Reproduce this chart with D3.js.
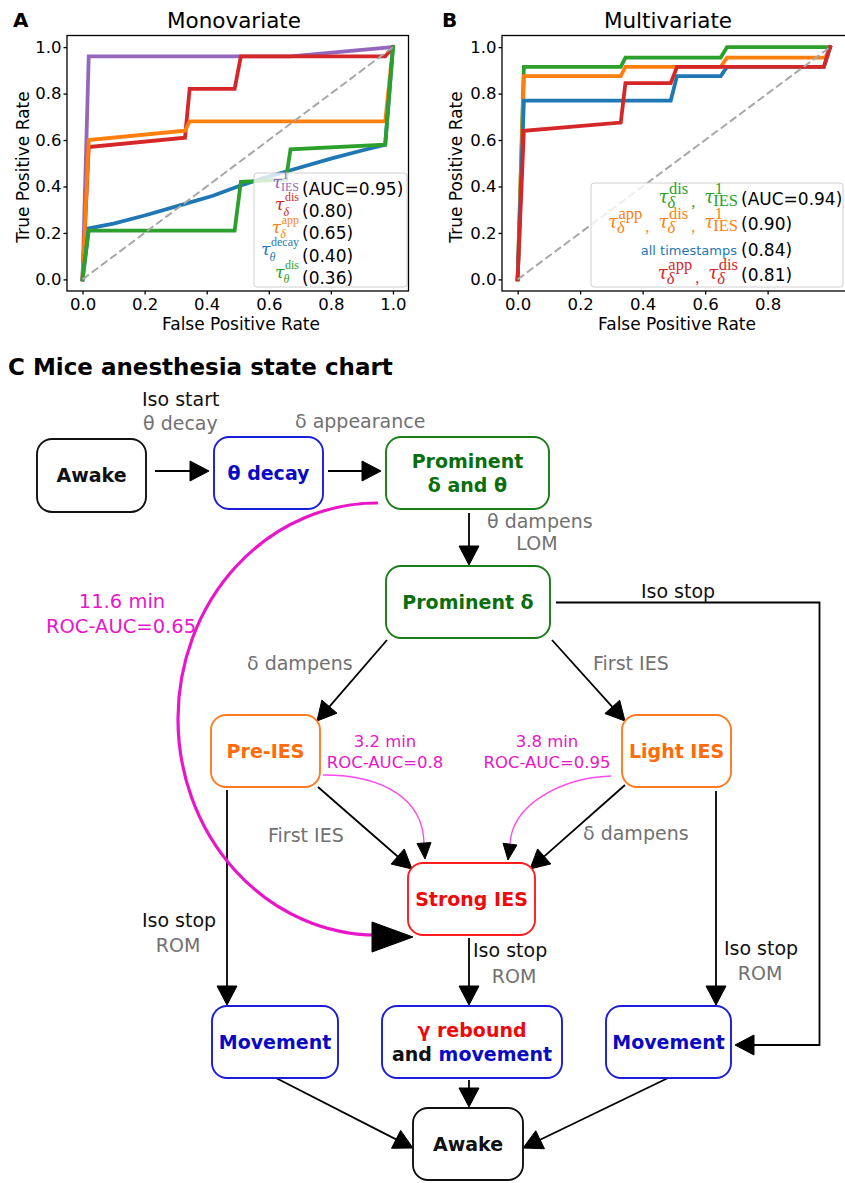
<!DOCTYPE html>
<html>
<head>
<meta charset="utf-8">
<script src="https://cdn.jsdelivr.net/npm/d3@7"></script>
<style>
  body { margin: 0; background: #fff; }
  svg { display: block; }
</style>
</head>
<body>
<svg id="fig" width="845" height="1183"></svg>
<script>
// ---------------- ROC curves, panel A (monovariate) ----------------
const monoIES1Fpr       = [0, 0.02, 0.67, 1.0];
const monoIES1Tpr       = [0, 0.96, 0.96, 1.0];
const monoDeltaDisFpr   = [0, 0.02, 0.33, 0.345, 0.49, 0.51, 0.975, 1.0];
const monoDeltaDisTpr   = [0, 0.57, 0.61, 0.82, 0.82, 0.96, 0.96, 1.0];
const monoDeltaAppFpr   = [0, 0.02, 0.33, 0.345, 0.975, 1.0];
const monoDeltaAppTpr   = [0, 0.60, 0.64, 0.68, 0.68, 1.0];
const monoThetaDecayFpr = [0, 0.02, 0.10, 0.20, 0.33, 0.42, 0.50, 0.58, 0.67, 0.80, 0.90, 0.975, 1.0];
const monoThetaDecayTpr = [0, 0.22, 0.24, 0.275, 0.325, 0.36, 0.40, 0.435, 0.47, 0.52, 0.555, 0.58, 1.0];
const monoThetaDisFpr   = [0, 0.02, 0.49, 0.51, 0.655, 0.67, 0.975, 1.0];
const monoThetaDisTpr   = [0, 0.21, 0.21, 0.42, 0.43, 0.56, 0.58, 1.0];
const monoAUC = [0.95, 0.80, 0.65, 0.40, 0.36];

// ---------------- ROC curves, panel B (multivariate) ----------------
const multiDisIESFpr    = [0, 0.02, 0.33, 0.345, 0.65, 0.67, 0.99, 1.0];
const multiDisIESTpr    = [0, 0.915, 0.915, 0.955, 0.955, 1.0, 1.0, 1.0];
const multiAppDisIESFpr = [0, 0.02, 0.33, 0.345, 0.65, 0.67, 0.985, 1.0];
const multiAppDisIESTpr = [0, 0.875, 0.875, 0.915, 0.915, 0.955, 0.955, 1.0];
const multiAllTsFpr     = [0, 0.02, 0.49, 0.51, 0.65, 0.67, 0.98, 1.0];
const multiAllTsTpr     = [0, 0.77, 0.77, 0.875, 0.875, 0.915, 0.915, 1.0];
const multiAppDisFpr    = [0, 0.02, 0.33, 0.345, 0.49, 0.51, 0.98, 1.0];
const multiAppDisTpr    = [0, 0.64, 0.675, 0.845, 0.845, 0.915, 0.915, 1.0];
const multiAUC = [0.94, 0.90, 0.84, 0.81];

// tick values
const xTicksA = [0, 0.2, 0.4, 0.6, 0.8, 1.0];
const xTicksB = [0, 0.2, 0.4, 0.6, 0.8];
const yTicks  = [0, 0.2, 0.4, 0.6, 0.8, 1.0];

// legend labels: tau with superscript / subscript
const monoLabels = [
  [{ sup: '1', sub: 'IES', roman: true }],
  [{ sup: 'dis', sub: 'δ' }],
  [{ sup: 'app', sub: 'δ' }],
  [{ sup: 'decay', sub: 'θ' }],
  [{ sup: 'dis', sub: 'θ' }]
];
const multiLabels = [
  [{ sup: 'dis', sub: 'δ' }, { sup: '1', sub: 'IES', roman: true }],
  [{ sup: 'app', sub: 'δ' }, { sup: 'dis', sub: 'δ' }, { sup: '1', sub: 'IES', roman: true }],
  'all timestamps',
  [{ sup: 'app', sub: 'δ' }, { sup: 'dis', sub: 'δ' }]
];

const SANS = 'DejaVu Sans, Verdana, sans-serif';
const SERIF = 'Liberation Serif, Times New Roman, serif';
const TAU_FONT = 'DejaVu Serif, Liberation Serif, serif';
const tab = { blue: '#1f77b4', orange: '#ff7f0e', green: '#2ca02c', red: '#d62728', purple: '#9467bd' };

const svg = d3.select('#fig');

// one text element per label: tau, stacked super/subscripts, commas between terms
function mathLabel(g, tokens, xRight, yBase, color, st) {
  const t = g.append('text').attr('fill', color).attr('font-family', SERIF);
  const piece = (txt, size, italic, family) => {
    const s = t.append('tspan').attr('font-size', size)
      .attr('font-style', italic ? 'italic' : 'normal').text(txt);
    if (family) s.attr('font-family', family);
    return s;
  };
  let cx = 0;
  tokens.forEach((tk, i) => {
    if (i > 0) {
      const c = piece(',', st.scriptSize, false);
      c.attr('x', cx + st.commaPre).attr('y', st.commaDy);
      cx += st.commaPre + c.node().getComputedTextLength() + st.commaPost;
    }
    const tau = piece('τ', st.tauSize, true, TAU_FONT);
    tau.attr('x', cx).attr('y', st.tauDy);
    const tw = tau.node().getComputedTextLength();
    const sp = piece(tk.sup, st.scriptSize, false);
    sp.attr('x', cx + tw + 0.5).attr('y', st.supDy);
    const sb = piece(tk.sub, st.scriptSize, !tk.roman);
    sb.attr('x', cx + tw - 1).attr('y', tk.roman ? st.subRomanDy : st.subDy);
    cx += tw + Math.max(0.5 + sp.node().getComputedTextLength(), sb.node().getComputedTextLength() - 1);
  });
  t.attr('transform', `translate(${xRight - cx},${yBase})`);
}

function rocPanel(cfg) {
  const g = svg.append('g');
  const x = d3.scaleLinear().domain([-0.05, 1.05]).range([cfg.left, cfg.right]);
  const y = d3.scaleLinear().domain([-0.05, 1.05]).range([cfg.bottom, cfg.top]);
  const clipId = 'clip-' + cfg.key;
  g.append('clipPath').attr('id', clipId).append('rect')
    .attr('x', cfg.left).attr('y', cfg.top)
    .attr('width', cfg.right - cfg.left).attr('height', cfg.bottom - cfg.top);

  const plot = g.append('g').attr('clip-path', `url(#${clipId})`);
  const line = d3.line().x(d => x(d[0])).y(d => y(d[1]));
  cfg.series.forEach(s => {
    const pts = s.fpr.map((f, i) => [f, s.tpr[i]]);
    plot.append('path').attr('d', line(pts))
      .attr('fill', 'none').attr('stroke', s.color).attr('stroke-width', 3.8)
      .attr('stroke-linejoin', 'miter').attr('stroke-linecap', 'square');
  });
  plot.append('path').attr('d', line([[0, 0], [1, 1]]))
    .attr('fill', 'none').attr('stroke', '#a8a8a8').attr('stroke-width', 2)
    .attr('stroke-dasharray', '8,3.5');

  // axes
  const xAxis = g.append('g').attr('transform', `translate(0,${cfg.bottom})`)
    .call(d3.axisBottom(x).tickValues(cfg.xTicks).tickFormat(d3.format('.1f')).tickSize(3.5).tickPadding(3.5));
  const yAxis = g.append('g').attr('transform', `translate(${cfg.left},0)`)
    .call(d3.axisLeft(y).tickValues(yTicks).tickFormat(d3.format('.1f')).tickSize(3.5).tickPadding(2));
  [xAxis, yAxis].forEach(a => {
    a.select('.domain').remove();
    a.selectAll('.tick line').attr('stroke', '#000').attr('stroke-width', 1.3);
    a.selectAll('.tick text').attr('font-family', SANS).attr('font-size', 16.5).attr('fill', '#000');
  });

  // legend (drawn over the curves, semi-transparent)
  const lg = cfg.legend;
  g.append('rect').attr('x', lg.x).attr('y', lg.y).attr('width', lg.w).attr('height', lg.h)
    .attr('rx', 3).attr('fill', '#fff').attr('fill-opacity', 0.8)
    .attr('stroke', '#d0d0d0').attr('stroke-width', 1);
  cfg.series.forEach((s, i) => {
    const yb = lg.firstBase + i * lg.step;
    if (typeof s.label === 'string') {
      g.append('text').attr('x', lg.textX - 4).attr('y', yb - 1).attr('text-anchor', 'end')
        .attr('font-family', SANS).attr('font-size', 13).attr('fill', s.color).text(s.label);
    } else {
      mathLabel(g, s.label, lg.textX - 3, yb, s.color, lg.math);
    }
    const auc = d3.format('.2f')(s.auc);
    g.append('text').attr('x', lg.textX).attr('y', yb)
      .attr('font-family', SANS).attr('font-size', 17).attr('fill', '#000')
      .text(i === 0 ? `(AUC=${auc})` : `(${auc})`);
  });

  // spines
  g.append('rect').attr('x', cfg.left).attr('y', cfg.top)
    .attr('width', cfg.right - cfg.left).attr('height', cfg.bottom - cfg.top)
    .attr('fill', 'none').attr('stroke', '#000').attr('stroke-width', 1.3);

  // titles and labels
  g.append('text').attr('x', cfg.titleX).attr('y', 28).attr('text-anchor', 'middle')
    .attr('font-family', SANS).attr('font-size', 21.5).text(cfg.title);
  g.append('text').attr('x', cfg.letterX).attr('y', 27)
    .attr('font-family', SANS).attr('font-size', 20).attr('font-weight', 'bold').text(cfg.letter);
  g.append('text').attr('x', cfg.xLabelX).attr('y', 330).attr('text-anchor', 'middle')
    .attr('font-family', SANS).attr('font-size', 17).text('False Positive Rate');
  g.append('text').attr('transform', `translate(${cfg.yLabelX},167) rotate(-90)`)
    .attr('text-anchor', 'middle').attr('font-family', SANS).attr('font-size', 17)
    .text('True Positive Rate');
}

rocPanel({
  key: 'a', letter: 'A', letterX: 13, title: 'Monovariate', titleX: 234, xLabelX: 241, yLabelX: 29,
  left: 67, right: 408.5, top: 35.5, bottom: 291, xTicks: xTicksA,
  series: [
    { fpr: monoIES1Fpr, tpr: monoIES1Tpr, color: tab.purple, label: monoLabels[0], auc: monoAUC[0] },
    { fpr: monoDeltaDisFpr, tpr: monoDeltaDisTpr, color: tab.red, label: monoLabels[1], auc: monoAUC[1] },
    { fpr: monoDeltaAppFpr, tpr: monoDeltaAppTpr, color: tab.orange, label: monoLabels[2], auc: monoAUC[2] },
    { fpr: monoThetaDecayFpr, tpr: monoThetaDecayTpr, color: tab.blue, label: monoLabels[3], auc: monoAUC[3] },
    { fpr: monoThetaDisFpr, tpr: monoThetaDisTpr, color: tab.green, label: monoLabels[4], auc: monoAUC[4] }
  ],
  legend: {
    x: 254, y: 173, w: 153, h: 114, textX: 302, firstBase: 194.5, step: 22.4,
    math: { tauSize: 17, scriptSize: 12, tauDy: -6.5, supDy: -15.5, subDy: -1, subRomanDy: -4, commaDy: -1, commaPre: 2, commaPost: 8 }
  }
});

rocPanel({
  key: 'b', letter: 'B', letterX: 442, title: 'Multivariate', titleX: 668, xLabelX: 677, yLabelX: 462,
  left: 502, right: 845.75, top: 35.5, bottom: 291, xTicks: xTicksB,
  series: [
    { fpr: multiDisIESFpr, tpr: multiDisIESTpr, color: tab.green, label: multiLabels[0], auc: multiAUC[0] },
    { fpr: multiAppDisIESFpr, tpr: multiAppDisIESTpr, color: tab.orange, label: multiLabels[1], auc: multiAUC[1] },
    { fpr: multiAllTsFpr, tpr: multiAllTsTpr, color: tab.blue, label: multiLabels[2], auc: multiAUC[2] },
    { fpr: multiAppDisFpr, tpr: multiAppDisTpr, color: tab.red, label: multiLabels[3], auc: multiAUC[3] }
  ],
  legend: {
    x: 591, y: 183, w: 252, h: 104, textX: 741, firstBase: 205, step: 25.3,
    math: { tauSize: 18, scriptSize: 16.5, tauDy: -2, supDy: -11, subDy: 3, subRomanDy: 0.5, commaDy: 2, commaPre: 3, commaPost: 9 }
  }
});

// ---------------- Panel C: anesthesia state chart ----------------
const stateIds = ['awakeStart', 'thetaDecay', 'promDeltaTheta', 'promDelta', 'preIES', 'lightIES',
  'strongIES', 'movementL', 'gammaRebound', 'movementR', 'awakeEnd'];
const stateLines = {
  awakeStart:     [[['Awake']]],
  thetaDecay:     [[['θ decay']]],
  promDeltaTheta: [[['Prominent']], [['δ and θ']]],
  promDelta:      [[['Prominent δ']]],
  preIES:         [[['Pre-IES']]],
  lightIES:       [[['Light IES']]],
  strongIES:      [[['Strong IES']]],
  movementL:      [[['Movement']]],
  gammaRebound:   [[['γ rebound', 'red']], [['and ', 'black'], ['movement', 'blue']]],
  movementR:      [[['Movement']]],
  awakeEnd:       [[['Awake']]]
};
const stateTone = {
  awakeStart: 'black', thetaDecay: 'blue', promDeltaTheta: 'green', promDelta: 'green',
  preIES: 'orange', lightIES: 'orange', strongIES: 'red', movementL: 'blue',
  gammaRebound: 'blue', movementR: 'blue', awakeEnd: 'black'
};
const tones = {
  black:  { stroke: '#111111', text: '#111111' },
  blue:   { stroke: '#1c1cdc', text: '#0a0ac4' },
  green:  { stroke: '#1a7d1a', text: '#0a6e0a' },
  orange: { stroke: '#ff7b22', text: '#ff6a0a' },
  red:    { stroke: '#ff1c1c', text: '#ee0a0a' }
};
// box geometry: x, y, width, height
const stateBox = {
  awakeStart:     [37, 439, 109, 73],
  thetaDecay:     [214, 437, 109, 72],
  promDeltaTheta: [386, 437, 163, 72],
  promDelta:      [386, 566, 164, 72],
  preIES:         [211, 715, 109, 72],
  lightIES:       [622, 715, 109, 72],
  strongIES:      [408, 863, 127, 72],
  movementL:      [212, 1006, 126, 72],
  gammaRebound:   [382, 1006, 180, 72],
  movementR:      [606, 1006, 125, 72],
  awakeEnd:       [413, 1108, 110, 72]
};
// transition routes (last point is the arrow tip)
const transitionRoutes = [
  [[155, 471], [209, 471]],
  [[328, 471], [381, 471]],
  [[469, 513], [469, 565]],
  [[387, 640], [317, 721]],
  [[552, 640], [625, 721]],
  [[318, 787], [412, 869]],
  [[625, 785], [530, 869]],
  [[227, 790], [227, 1005]],
  [[469, 938], [469, 1005]],
  [[716, 791], [716, 1005]],
  [[556, 602.5], [819.5, 602.5], [819.5, 1045], [735, 1045]],
  [[469, 1080], [469, 1107]],
  [[276, 1078], [413, 1148]],
  [[668, 1078], [523, 1148]]
];
// transition labels: text, x, y, anchor, tone
const transitionLabels = [
  ['Iso start', 142, 406, 'start', 'k'], ['θ decay', 143, 430, 'start', 'g'],
  ['δ appearance', 295, 428, 'start', 'g'],
  ['θ dampens', 487, 528, 'start', 'g'], ['LOM', 537, 550, 'middle', 'g'],
  ['Iso stop', 678, 598, 'middle', 'k'],
  ['δ dampens', 247, 670, 'start', 'g'], ['First IES', 593, 670, 'start', 'g'],
  ['First IES', 268, 842, 'start', 'g'], ['δ dampens', 583, 840, 'start', 'g'],
  ['Iso stop', 179, 927, 'middle', 'k'], ['ROM', 178, 952, 'middle', 'g'],
  ['Iso stop', 473, 957, 'start', 'k'], ['ROM', 514, 983, 'middle', 'g'],
  ['Iso stop', 761, 955, 'middle', 'k'], ['ROM', 760, 980, 'middle', 'g']
];
// latency annotations
const latencyLabels = [
  ['11.6 min', 122, 608, 19.5], ['ROC-AUC=0.65', 121, 633, 19.5],
  ['3.2 min', 385, 747, 16.5], ['ROC-AUC=0.8', 385, 768, 16.5],
  ['3.8 min', 547, 747, 16.5], ['ROC-AUC=0.95', 547, 768, 16.5]
];

const C = svg.append('g');
C.append('text').attr('x', 8).attr('y', 375).attr('font-family', SANS)
  .attr('font-size', 23).attr('font-weight', 'bold').text('C Mice anesthesia state chart');

function arrowHead(g, from, tip, len, half, color) {
  const dx = tip[0] - from[0], dy = tip[1] - from[1];
  const L = Math.hypot(dx, dy), ux = dx / L, uy = dy / L;
  const bx = tip[0] - ux * len, by = tip[1] - uy * len;
  g.append('path')
    .attr('d', `M${tip[0]},${tip[1]}L${bx - uy * half},${by + ux * half}L${bx + uy * half},${by - ux * half}Z`)
    .attr('fill', color).attr('stroke', color).attr('stroke-width', 1).attr('stroke-linejoin', 'miter');
  return [bx, by];
}

// black transitions
transitionRoutes.forEach(r => {
  const tip = r[r.length - 1], prev = r[r.length - 2];
  const base = arrowHead(C, prev, tip, 19, 10, '#000');
  const pts = r.slice(0, -1).concat([base]);
  C.append('path').attr('d', d3.line()(pts)).attr('fill', 'none')
    .attr('stroke', '#000').attr('stroke-width', 1.8);
});

// latency arcs
const MAG = '#e816c9', MAG_LIGHT = '#ff48ea';
C.append('path').attr('d', 'M378,503 A199,216 0 0 0 376,935')
  .attr('fill', 'none').attr('stroke', MAG).attr('stroke-width', 3.2);
arrowHead(C, [372, 937], [413, 937], 41, 15, '#000');
C.append('path').attr('d', 'M323,775 C385,775 423,800 424,843')
  .attr('fill', 'none').attr('stroke', MAG_LIGHT).attr('stroke-width', 1.3);
arrowHead(C, [424, 843], [425, 859], 16, 7, '#000');
C.append('path').attr('d', 'M611,776 C560,778 512,805 510,844')
  .attr('fill', 'none').attr('stroke', MAG_LIGHT).attr('stroke-width', 1.3);
arrowHead(C, [510, 844], [508, 860], 16, 7, '#000');

// states
stateIds.forEach(id => {
  const [bx, by, bw, bh] = stateBox[id];
  const tone = tones[stateTone[id]];
  C.append('rect').attr('x', bx).attr('y', by).attr('width', bw).attr('height', bh)
    .attr('rx', 15).attr('fill', '#fff').attr('stroke', tone.stroke).attr('stroke-width', 1.9);
  const lines = stateLines[id];
  const cx = bx + bw / 2, cy = by + bh / 2;
  lines.forEach((segs, li) => {
    const yb = lines.length === 1 ? cy + 6.5 : cy - 5 + li * 24;
    const t = C.append('text').attr('x', cx).attr('y', yb).attr('text-anchor', 'middle')
      .attr('font-family', SANS).attr('font-size', 19).attr('font-weight', 'bold');
    segs.forEach(([txt, col]) => {
      t.append('tspan').attr('fill', col ? tones[col].text : tone.text).text(txt);
    });
  });
});

// labels
transitionLabels.forEach(([txt, x, y, anchor, tone]) => {
  C.append('text').attr('x', x).attr('y', y).attr('text-anchor', anchor)
    .attr('font-family', SANS).attr('font-size', 19)
    .attr('fill', tone === 'k' ? '#111' : '#717171').text(txt);
});
latencyLabels.forEach(([txt, x, y, size]) => {
  C.append('text').attr('x', x).attr('y', y).attr('text-anchor', 'middle')
    .attr('font-family', SANS).attr('font-size', size).attr('fill', MAG).text(txt);
});
</script>
</body>
</html>
